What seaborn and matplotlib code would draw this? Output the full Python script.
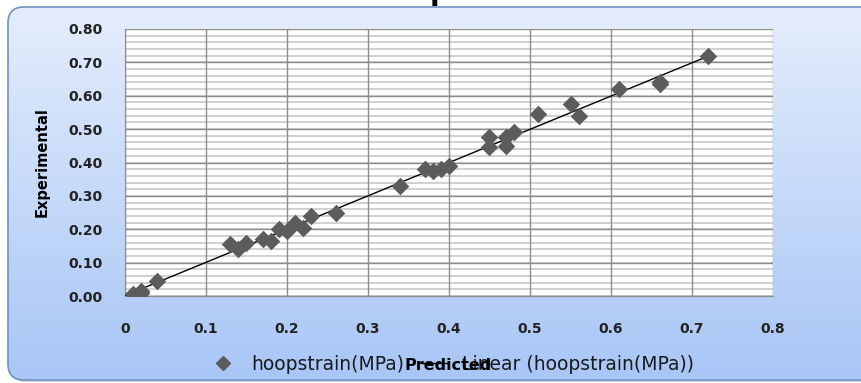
import matplotlib
matplotlib.use("Agg")
import matplotlib.pyplot as plt
import numpy as np
import pandas as pd
import seaborn as sns
from matplotlib.lines import Line2D
from matplotlib.patches import FancyBboxPatch

# --- Data ---
predicted = [0.01, 0.02, 0.02, 0.04, 0.13, 0.14, 0.15, 0.17, 0.18, 0.19, 0.20,
             0.21, 0.22, 0.23, 0.26, 0.34, 0.37, 0.38, 0.39, 0.40, 0.45, 0.45,
             0.47, 0.47, 0.48, 0.51, 0.55, 0.56, 0.61, 0.66, 0.66, 0.72]
experimental = [0.005, 0.015, 0.01, 0.045, 0.155, 0.14, 0.16, 0.17, 0.165, 0.20,
                0.195, 0.22, 0.205, 0.24, 0.25, 0.33, 0.38, 0.375, 0.38, 0.39,
                0.475, 0.445, 0.45, 0.475, 0.49, 0.545, 0.575, 0.54, 0.62, 0.635,
                0.64, 0.72]
x_ticks = [0, 0.1, 0.2, 0.3, 0.4, 0.5, 0.6, 0.7, 0.8]
y_ticks = [0.0, 0.1, 0.2, 0.3, 0.4, 0.5, 0.6, 0.7, 0.8]
series_name = "hoopstrain(MPa)"

df = pd.DataFrame({"Predicted": predicted, "Experimental": experimental})

sns.set_style("white")
plt.rcParams["font.family"] = ["DejaVu Sans"]

W, H = 862, 383
fig = plt.figure(figsize=(W / 100, H / 100), dpi=100, facecolor="white")

# --- Rounded gradient background (Excel chart area) ---
bg = fig.add_axes([0, 0, 1, 1])
bg.set_xlim(0, W)
bg.set_ylim(H, 0)
bg.axis("off")
shadow = FancyBboxPatch((10, 10), W + 20, 372, boxstyle="round,pad=0,rounding_size=16",
                        facecolor="#b8b8b8", edgecolor="none", alpha=0.6)
bg.add_patch(shadow)
box = FancyBboxPatch((8, 7), W + 20, 373, boxstyle="round,pad=0,rounding_size=16",
                     facecolor="none", edgecolor="#6e92c4", linewidth=1.2)
bg.add_patch(box)
grad = np.linspace(0, 1, 256).reshape(-1, 1)
cmap = matplotlib.colors.LinearSegmentedColormap.from_list("bg", ["#e4edfc", "#a8c6f6"])
im = bg.imshow(grad, extent=[8, W + 28, 380, 7], cmap=cmap, aspect="auto", zorder=1)
im.set_clip_path(box)
box.set_zorder(2)

# --- Plot area ---
ax = fig.add_axes([125 / W, (H - 296) / H, 648 / W, 267 / H], facecolor="white")
ax.set_zorder(3)

for v in np.arange(0, 0.8001, 0.02):
    ax.axhline(v, color="#c8c8c8", linewidth=1.2, zorder=0)
for v in y_ticks:
    ax.axhline(v, color="#8c8c8c", linewidth=1.0, zorder=0)
for v in x_ticks:
    ax.axvline(v, color="#8c8c8c", linewidth=1.0, zorder=0)

slope, intercept = np.polyfit(df["Predicted"], df["Experimental"], 1)
xs = np.array([0.0, max(predicted)])
ax.plot(xs, slope * xs + intercept, color="black", linewidth=1.0, zorder=3)

sns.scatterplot(data=df, x="Predicted", y="Experimental", marker="D", s=80,
                color="#5c5c5c", edgecolor="#5c5c5c", linewidth=0, ax=ax,
                zorder=4, legend=False)

ax.set_xlim(0, 0.8)
ax.set_ylim(0, 0.8)
ax.set_xticks(x_ticks)
ax.set_xticklabels(["0", "0.1", "0.2", "0.3", "0.4", "0.5", "0.6", "0.7", "0.8"])
ax.set_yticks(y_ticks)
ax.set_yticklabels([f"{v:.2f}" for v in y_ticks])
ax.tick_params(axis="both", direction="out", length=6, width=1, color="#8c8c8c",
               labelsize=10, labelcolor="#222222")
ax.tick_params(axis="x", pad=13)
ax.tick_params(axis="y", pad=10)
for lab in ax.get_xticklabels() + ax.get_yticklabels():
    lab.set_fontweight("bold")
for sp in ax.spines.values():
    sp.set_color("#8c8c8c")
ax.spines["top"].set_visible(False)
ax.spines["right"].set_visible(False)

ax.set_xlabel("")
ax.set_ylabel("")
fig.text(42 / W, 1 - 162 / H, "Experimental", rotation=90, fontsize=10.5,
         fontweight="bold", ha="center", va="center", color="black")

# clipped title, only the descender shows at the very top
fig.text(440 / W, 1.0, "p", fontsize=20, fontweight="bold", ha="center",
         va="baseline", color="black", zorder=10)

# --- Legend at the bottom, overlapped by the x-axis title as in the source ---
handles = [
    Line2D([], [], marker="D", linestyle="none", color="#5c5c5c", markersize=7),
    Line2D([], [], color="black", linewidth=1.0),
]
leg = fig.legend(handles, [series_name, f"Linear ({series_name})"], ncol=2,
                 loc="center", bbox_to_anchor=(452 / W, 1 - 364 / H), frameon=False,
                 fontsize=13.5, handlelength=1.4, columnspacing=0.9,
                 handletextpad=0.8)
for t in leg.get_texts():
    t.set_color("#1a1a1a")
fig.text(448 / W, 1 - 366 / H, "Predicted", fontsize=11.5, fontweight="bold",
         ha="center", va="center", color="black", zorder=10)

fig.savefig("out.png", dpi=100, facecolor="white")
